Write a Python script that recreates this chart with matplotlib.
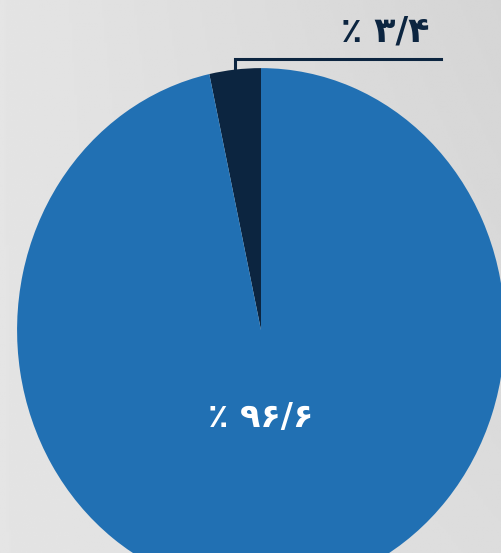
import numpy as np
import matplotlib
matplotlib.use("Agg")
import matplotlib.pyplot as plt

# داده ها
sahm = [3.4, 96.6]
rang = ["#0c2540", "#2170b3"]
rang_matn = ["#0c2540", "white"]

def farsi(v):
    s = "%.1f" % v
    s = s.replace(".", "/")
    s = s.translate(str.maketrans("0123456789", "۰۱۲۳۴۵۶۷۸۹"))
    return "٪ " + s

fig = plt.figure(figsize=(5.02, 5.53), dpi=100)

# پس زمینه خاکستری
bg = fig.add_axes([0, 0, 1, 1])
yy, xx = np.mgrid[0:1:200j, 0:1:200j]
shade = 0.895 - 0.06 * xx * (1 - yy) - 0.03 * yy * xx
bg.imshow(shade, cmap="gray", vmin=0, vmax=1, extent=[0, 1, 0, 1],
          aspect="auto", origin="upper")
bg.axis("off")

ax = fig.add_axes([0, 0, 1, 1])
ax.patch.set_alpha(0)
wedges, _ = ax.pie(sahm, colors=rang, startangle=90, counterclock=True,
                   radius=1, wedgeprops=dict(linewidth=0))
ax.set_aspect("auto")
ax.set_xlim(-1.07, 0.988)
ax.set_ylim(-0.851, 1.26)
ax.axis("off")

# برچسب برش کوچک با خط راهنما
w = wedges[0]
mid = np.deg2rad((w.theta1 + w.theta2) / 2)
x0, y0 = np.cos(mid), np.sin(mid)
ax.plot([x0, x0, 0.738], [y0, 1.034, 1.034], color=rang_matn[0], lw=2.2,
        solid_joinstyle="miter", clip_on=False)
ax.text(0.508, 1.14, farsi(sahm[0]), ha="center", va="center",
        fontsize=25, fontweight="bold", color=rang_matn[0])

# برچسب برش بزرگ
w = wedges[1]
mid = np.deg2rad((w.theta1 + w.theta2) / 2)
ax.text(0, 0.337 * np.sin(mid), farsi(sahm[1]),
        ha="center", va="center", fontsize=24, fontweight="bold",
        color=rang_matn[1])

fig.savefig("out.png", dpi=100)
